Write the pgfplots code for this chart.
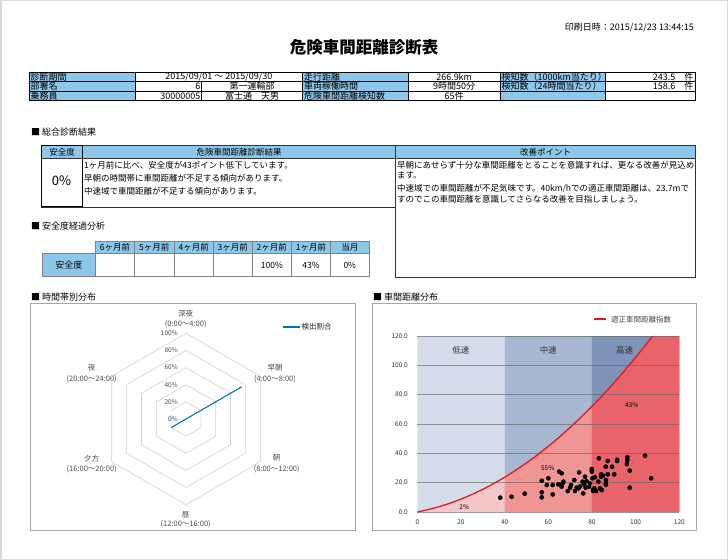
\documentclass[border=0pt]{standalone}
\usepackage{fontspec}
\setmainfont{Noto Sans CJK JP}
\usepackage{pgfplots}
\pgfplotsset{compat=1.18}
\usepgfplotslibrary{polar}

\definecolor{hdr}{HTML}{8DC8EA}
\definecolor{bandlow}{HTML}{D5DDEA}
\definecolor{bandmid}{HTML}{A8B8D2}
\definecolor{bandhigh}{HTML}{7E94B9}
\definecolor{pinklow}{HTML}{F6C7C9}
\definecolor{pinkmid}{HTML}{F09494}
\definecolor{redhigh}{HTML}{E9636A}
\definecolor{curvered}{HTML}{E3191E}
\definecolor{radarblue}{HTML}{0070C0}
\definecolor{txtgray}{HTML}{4D4D4D}

\newcommand{\fs}{\fontsize{8.5bp}{10bp}\selectfont}
\newcommand{\fst}{\fontsize{9bp}{10bp}\selectfont}
\newcommand{\fsm}{\fontsize{7.5bp}{8bp}\selectfont}

\begin{document}
\begin{tikzpicture}
\begin{scope}[x=1bp,y=-1bp,every node/.style={inner sep=0pt,font=\fs}]
  % page
  \draw[gray!30,line width=1.5bp,fill=white] (0.75,0.75) rectangle (727.25,559.25);
  \node[anchor=east,font=\fst] at (694,28) {印刷日時：2015/12/23 13:44:15};
  \node[font=\fontsize{16.5bp}{18bp}\selectfont\bfseries] at (364,47.5) {危険車間距離診断表};

  % header table
  \fill[hdr] (29.3,72) rectangle (135,100.5);
  \fill[hdr] (302.7,72) rectangle (408.3,100.5);
  \fill[hdr] (500,72) rectangle (605,100.5);
  \draw[line width=0.5bp] (29.3,72) rectangle (695,100.5);
  \draw[line width=0.5bp] (29.3,81.5) -- (695,81.5) (29.3,91) -- (695,91);
  \foreach \xx in {135,302.7,408.3,500,605} \draw[line width=0.5bp] (\xx,72) -- (\xx,100.5);
  \draw[line width=0.5bp] (201.7,81.5) -- (201.7,100.5);

  \begin{scope}[every node/.style={inner sep=0pt,font=\fst}]
  \node[anchor=west] at (30.5,77) {診断期間};
  \node at (218.85,77) {2015/09/01 ～ 2015/09/30};
  \node[anchor=west] at (304,77) {走行距離};
  \node at (454.15,77) {266.9km};
  \node[anchor=west] at (501.5,77) {検知数（1000km当たり）};
  \node[anchor=east] at (693.5,77) {243.5　件};

  \node[anchor=west] at (30.5,86.5) {部署名};
  \node[anchor=east] at (200.5,86.5) {6};
  \node at (252.2,86.5) {第一運輸部};
  \node[anchor=west] at (304,86.5) {車両稼働時間};
  \node at (454.15,86.5) {9時間50分};
  \node[anchor=west] at (501.5,86.5) {検知数（24時間当たり）};
  \node[anchor=east] at (693.5,86.5) {158.6　件};

  \node[anchor=west] at (30.5,96) {乗務員};
  \node[anchor=east] at (200.5,96) {30000005};
  \node at (252.2,96) {富士通　天男};
  \node[anchor=west] at (304,96) {危険車間距離検知数};
  \node at (454.15,96) {65件};
  \end{scope}

  % overall diagnosis
  \node[anchor=west,font=\fst] at (31,131.7) {■ 総合診断結果};
  \fill[hdr] (41.8,145.5) rectangle (695.4,158.5);
  \draw[black!80,line width=0.8bp] (41.8,145.5) rectangle (395.5,207);
  \draw[black!80,line width=0.8bp] (395.5,145.5) rectangle (695.4,277.7);
  \draw[black,line width=1bp] (41.8,145.5) rectangle (82.6,207);
  \draw[black!80,line width=0.5bp] (41.8,158.5) -- (695.4,158.5);
  \node at (62.2,152) {安全度};
  \node at (239,152) {危険車間距離診断結果};
  \node at (545.5,152) {改善ポイント};
  \node[font=\fontsize{13bp}{14bp}\selectfont] at (61.5,181) {0\%};
  \node[anchor=west] at (84,165) {1ヶ月前に比べ、安全度が43ポイント低下しています。};
  \node[anchor=west] at (84,178.5) {早朝の時間帯に車間距離が不足する傾向があります。};
  \node[anchor=west] at (84,191.5) {中速域で車間距離が不足する傾向があります。};
  \node[anchor=west] at (396.8,165.7) {早朝にあせらず十分な車間距離をとることを意識すれば、更なる改善が見込め};
  \node[anchor=west] at (396.8,175.7) {ます。};
  \node[anchor=west] at (396.8,189) {中速域での車間距離が不足気味です。40km/hでの適正車間距離は、23.7mで};
  \node[anchor=west] at (396.8,199.3) {すのでこの車間距離を意識してさらなる改善を目指しましょう。};

  % trend table
  \node[anchor=west,font=\fst] at (31,226) {■ 安全度経過分析};
  \fill[hdr] (95.2,241) rectangle (369.1,253.3);
  \fill[hdr] (42.7,253.3) rectangle (95.2,276.7);
  \draw[gray,line width=0.5bp] (95.2,241) rectangle (369.1,276.7);
  \draw[gray,line width=0.5bp] (42.7,253.3) rectangle (95.2,276.7);
  \draw[gray,line width=0.5bp] (95.2,253.3) -- (369.1,253.3);
  \foreach \xx in {134.6,174.1,213.6,252.1,291.6,330.5} \draw[gray,line width=0.5bp] (\xx,241) -- (\xx,276.7);
  \node at (114.9,247.2) {6ヶ月前};
  \node at (154.35,247.2) {5ヶ月前};
  \node at (193.85,247.2) {4ヶ月前};
  \node at (232.85,247.2) {3ヶ月前};
  \node at (271.85,247.2) {2ヶ月前};
  \node at (311.05,247.2) {1ヶ月前};
  \node at (349.8,247.2) {当月};
  \node[font=\fst] at (68.95,265) {安全度};
  \node at (271.85,265) {100\%};
  \node at (311.05,265) {43\%};
  \node at (349.8,265) {0\%};

  % chart frames
  \node[anchor=west,font=\fst] at (31,296.7) {■ 時間帯別分布};
  \node[anchor=west,font=\fst] at (373,296.7) {■ 車間距離分布};
  \draw[gray!70,line width=0.6bp] (30.7,303) rectangle (355,530);
  \draw[gray!70,line width=0.6bp] (372.3,303) rectangle (696.7,530);

  % radar labels and legends
  \begin{scope}[every node/.style={inner sep=0pt,font=\fsm,text=txtgray}]
    \node at (185.7,313.3) {深夜};
    \node at (185.7,324.3) {(0:00～4:00)};
    \node at (275,367.7) {早朝};
    \node at (275,379.3) {(4:00～8:00)};
    \node at (276.7,457.7) {朝};
    \node at (276.7,469) {(8:00～12:00)};
    \node at (185.7,514.3) {昼};
    \node at (185.7,524.6) {(12:00～16:00)};
    \node at (91.7,458.3) {夕方};
    \node at (91.7,469) {(16:00～20:00)};
    \node at (91.7,367.7) {夜};
    \node at (91.7,379.3) {(20:00～24:00)};
    \draw[radarblue,line width=1.4bp] (283,327) -- (300,327);
    \node[anchor=west,text=black!85] at (301.5,327) {検出割合};
    \draw[curvered,line width=2bp] (594,319.3) -- (606,319.3);
    \node[anchor=west] at (611,319.3) {適正車間距離指数};
  \end{scope}
\end{scope}

% radar chart
\begin{polaraxis}[
  at={(186bp,-419bp)}, anchor=center,
  scale only axis, width=171.4bp, height=171.4bp,
  ymin=0, ymax=100, hide axis, clip=false,
]
\foreach \r in {20,40,60,80,100} {
  \edef\temp{\noexpand\addplot[gray!35,line width=0.6bp,forget plot] coordinates {(90,\r)(30,\r)(330,\r)(270,\r)(210,\r)(150,\r)(90,\r)};}
  \temp
}
\addplot[radarblue,line width=1.1bp] coordinates {(90,0)(30,75)(330,0)(270,0)(210,20)(150,0)(90,0)};
\foreach \r in {0,20,40,60,80,100} {
  \edef\temp{\noexpand\node[anchor=east,inner sep=0pt,font=\noexpand\fontsize{6.5bp}{7bp}\noexpand\selectfont,text=txtgray,xshift=-8bp] at (axis cs:90,\r) {\r\noexpand\%};}
  \temp
}
\end{polaraxis}

% distance chart
\begin{axis}[
  at={(417.3bp,-512bp)}, anchor=south west,
  scale only axis, width=262bp, height=176bp,
  xmin=0, xmax=120, ymin=0, ymax=120,
  xtick={0,20,...,120}, ytick={0,20,...,120},
  ymajorgrids, axis on top,
  grid style={gray!75!black,line width=0.4bp,opacity=0.6},
  axis line style={draw=none},
  major tick length=0pt,
  /pgf/number format/assume math mode=true,
  tick label style={font=\fontsize{6.5bp}{7bp}\selectfont,text=black!80},
  xticklabel style={yshift=-4bp},
  yticklabel style={xshift=-6bp,/pgf/number format/.cd,fixed,fixed zerofill,precision=1},
]
\addplot[fill=bandlow,draw=none] coordinates {(0,0)(40,0)(40,120)(0,120)(0,0)};
\addplot[fill=bandmid,draw=none] coordinates {(40,0)(80,0)(80,120)(40,120)(40,0)};
\addplot[fill=bandhigh,draw=none] coordinates {(80,0)(120,0)(120,120)(80,120)(80,0)};
\addplot[fill=pinklow,draw=none] coordinates {(0,0)(5,1.62)(10,3.62)(15,6.01)(20,8.78)(25,11.93)(30,15.47)(35,19.40)(40,23.70)(40,0)(0,0)};
\addplot[fill=pinkmid,draw=none] coordinates {(40,0)(40,23.70)(45,28.40)(50,33.48)(55,38.94)(60,44.78)(65,51.02)(70,57.63)(75,64.63)(80,72.02)(80,0)(40,0)};
\addplot[fill=redhigh,draw=none] coordinates {(80,0)(80,72.02)(85,79.78)(90,87.94)(95,96.48)(100,105.40)(105,114.71)(107.8,120)(120,120)(120,0)(80,0)};
\addplot[curvered,line width=1.3bp] coordinates {(0,0)(5,1.62)(10,3.62)(15,6.01)(20,8.78)(25,11.93)(30,15.47)(35,19.40)(40,23.70)(45,28.40)(50,33.48)(55,38.94)(60,44.78)(65,51.02)(70,57.63)(75,64.63)(80,72.02)(85,79.78)(90,87.94)(95,96.48)(100,105.40)(105,114.71)(107.8,120)};
\addplot[only marks,mark=*,mark size=2.1bp,black] coordinates {
(38.0,9.8) (43.2,10.4) (49.2,12.5) (57.0,13.4) (57.0,10.0) (57.0,21.3) (60.0,23.0) (59.3,18.4) (62.0,12.0) (62.0,18.4)
(65.0,27.5) (66.1,26.4) (64.6,18.8) (66.9,20.7) (66.1,17.3) (68.9,14.3) (70.4,18.4) (70.0,16.6) (71.9,21.8) (72.2,14.3)
(73.0,16.6) (73.8,16.1) (74.1,27.0) (76.0,12.7) (75.7,20.7) (76.8,24.1) (76.5,18.8) (77.1,16.6) (77.5,21.1) (78.7,17.3)
(79.1,19.5) (79.9,29.3) (79.9,27.5) (80.2,23.0) (80.6,14.3) (81.4,23.7) (81.1,16.1) (81.9,14.3) (82.9,20.7) (83.2,36.6)
(83.7,16.1) (84.2,25.7) (84.2,24.1) (84.5,15.0) (86.3,30.9) (86.4,21.8) (86.3,19.5) (87.2,34.8) (87.2,25.7) (89.2,30.9)
(90.2,25.7) (91.5,34.8) (91.5,35.6) (96.2,37.3) (96.2,35.4) (96.0,32.7) (97.3,28.2) (97.3,16.6) (104.3,38.4) (107.1,23.0)
(86.4,18.6) (80.5,15.0) (85.0,24.8) (66.5,19.5) (74.5,17.5)};
\node[font=\fontsize{8.5bp}{9bp}\selectfont,text=black!80] at (axis cs:20,110) {低速};
\node[font=\fontsize{8.5bp}{9bp}\selectfont,text=black!80] at (axis cs:60,110) {中速};
\node[font=\fontsize{8.5bp}{9bp}\selectfont,text=black!80] at (axis cs:95,110) {高速};
\node[font=\fontsize{6.5bp}{7bp}\selectfont] at (axis cs:21.5,3) {2\%};
\node[font=\fontsize{6.5bp}{7bp}\selectfont] at (axis cs:59.7,29.8) {55\%};
\node[font=\fontsize{6.5bp}{7bp}\selectfont] at (axis cs:98.2,73) {43\%};
\end{axis}
\end{tikzpicture}
\end{document}
